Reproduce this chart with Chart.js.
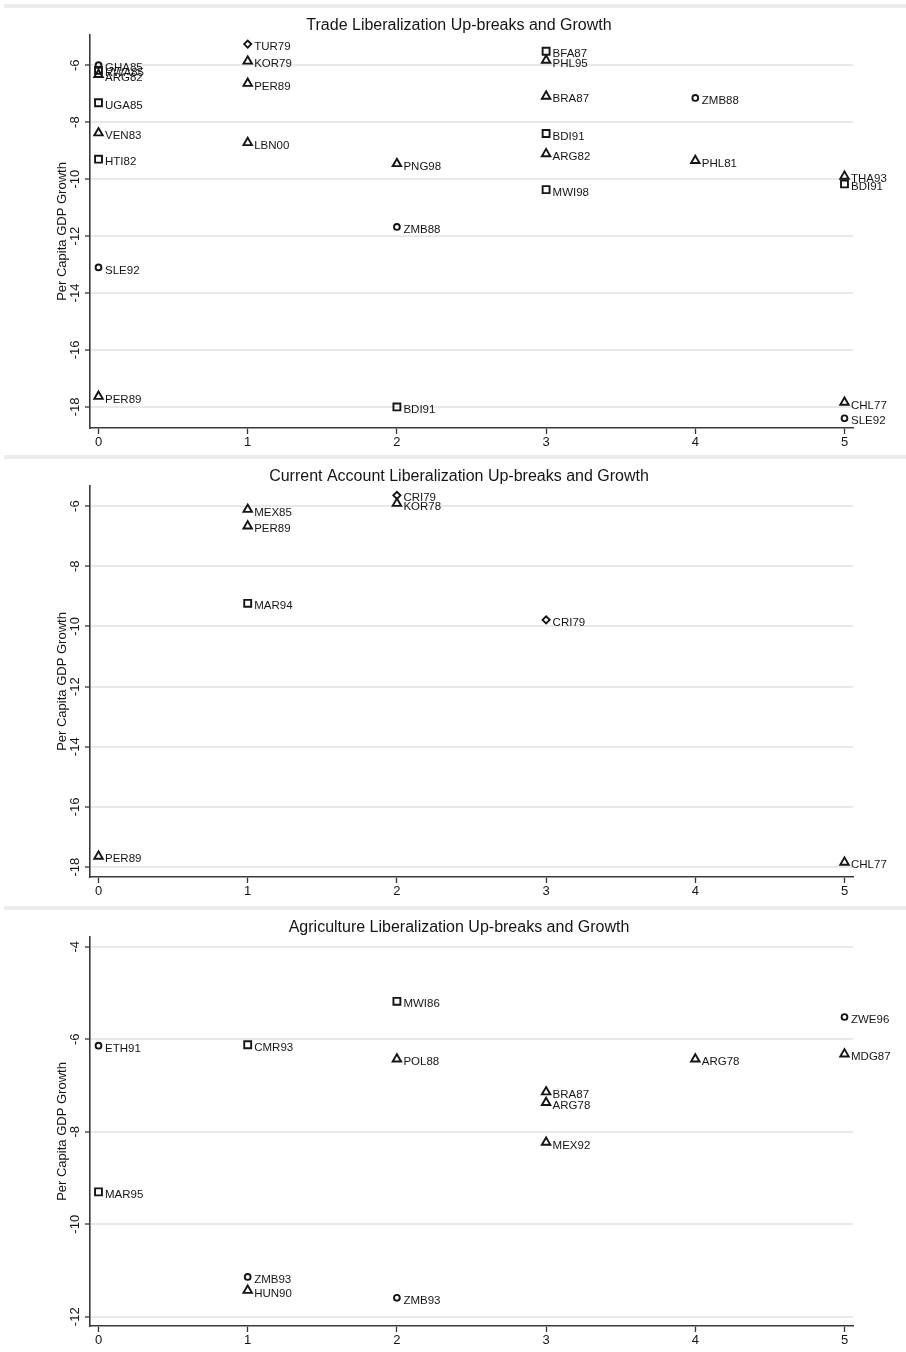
<!DOCTYPE html>
<html>
<head>
<meta charset="utf-8">
<script src="https://cdn.jsdelivr.net/npm/chart.js@4.4.1/dist/chart.umd.min.js"></script>
<style>
  html, body { margin: 0; padding: 0; background: #fff; }
  canvas { display: block; }
</style>
</head>
<body>
<canvas id="trade" width="906" height="451"></canvas>
<canvas id="current" width="906" height="451"></canvas>
<canvas id="agri" width="906" height="450"></canvas>
<script>
// ---- Trade liberalization up-breaks ----
const tradeCodes  = ['GHA85','RWA85','ARG82','UGA85','VEN83','HTI82','SLE92','PER89',
                     'TUR79','KOR79','PER89','LBN00',
                     'PNG98','ZMB88','BDI91',
                     'BFA87','PHL95','BRA87','BDI91','ARG82','MWI98',
                     'ZMB88','PHL81',
                     'THA93','BDI91','CHL77','SLE92'];
const tradeBreaks = [0,0,0,0,0,0,0,0, 1,1,1,1, 2,2,2, 3,3,3,3,3,3, 4,4, 5,5,5,5];
const tradeGrowth = [-6.0,-6.18,-6.33,-7.32,-8.38,-9.30,-13.10,-17.63,
                     -5.26,-5.86,-6.64,-8.72,
                     -9.46,-11.68,-18.0,
                     -5.51,-5.83,-7.09,-8.40,-9.11,-10.37,
                     -7.15,-9.35,
                     -9.90,-10.17,-17.84,-18.40];
const tradeGroup  = ['A','B','C','B','C','B','A','C',
                     'D','C','C','C',
                     'C','A','B',
                     'B','C','C','B','C','B',
                     'A','C',
                     'C','B','C','A'];

// ---- Current account liberalization up-breaks ----
const currentCodes  = ['PER89','MEX85','PER89','MAR94','CRI79','KOR78','CRI79','CHL77'];
const currentBreaks = [0,1,1,1,2,2,3,5];
const currentGrowth = [-17.64,-6.11,-6.66,-9.23,-5.64,-5.91,-9.78,-17.84];
const currentGroup  = ['C','C','C','B','D','C','D','C'];

// ---- Agriculture liberalization up-breaks ----
const agriCodes  = ['ETH91','MAR95','CMR93','ZMB93','HUN90','MWI86','POL88','ZMB93',
                    'BRA87','ARG78','MEX92','ARG78','ZWE96','MDG87'];
const agriBreaks = [0,0,1,1,1,2,2,2,3,3,3,4,5,5];
const agriGrowth = [-6.14,-9.30,-6.12,-11.14,-11.43,-5.18,-6.43,-11.59,
                    -7.14,-7.37,-8.23,-6.43,-5.52,-6.32];
const agriGroup  = ['A','B','B','A','C','B','C','A','C','C','C','C','A','C'];

// ---- Axis ticks ----
const xTickValues     = [0,1,2,3,4,5];
const tradeYTicks     = [-18,-16,-14,-12,-10,-8,-6];
const currentYTicks   = [-18,-16,-14,-12,-10,-8,-6];
const agriYTicks      = [-12,-10,-8,-6,-4];

const panelTitles = [
  'Trade Liberalization Up-breaks and Growth',
  'Current Account Liberalization Up-breaks and Growth',
  'Agriculture Liberalization Up-breaks and Growth'
];
const yTitle = 'Per Capita GDP Growth';

// marker symbol for each group
const groupMarker = {
  A: { style: 'circle',   radius: 2.9 },
  B: { style: 'rect',     radius: 4.9 },
  C: { style: 'triangle', radius: 4.9 },
  D: { style: 'rectRot',  radius: 3.6 }
};

const FONT = '"Liberation Sans", Arial, Helvetica, sans-serif';
const INK = '#151515';

function buildDatasets(codes, xs, ys, groups) {
  return ['A','B','C','D'].map(g => {
    const idx = groups.map((v, i) => v === g ? i : -1).filter(i => i >= 0);
    return {
      label: g,
      data: idx.map(i => ({ x: xs[i], y: ys[i] })),
      codes: idx.map(i => codes[i]),
      pointStyle: groupMarker[g].style,
      pointRadius: groupMarker[g].radius,
      pointHoverRadius: groupMarker[g].radius,
      pointBorderWidth: 1.9,
      pointBorderColor: INK,
      pointBackgroundColor: 'rgba(0,0,0,0)',
      showLine: false
    };
  }).filter(d => d.data.length);
}

// frame strip, title, rotated y tick labels and axis title
const panelDecor = {
  id: 'panelDecor',
  beforeDraw(chart) {
    const ctx = chart.ctx;
    ctx.save();
    ctx.fillStyle = '#ffffff';
    ctx.fillRect(0, 0, chart.width, chart.height);
    ctx.fillStyle = '#ececec';
    ctx.fillRect(4, 4, chart.width - 4, 4);
    ctx.restore();
  },
  afterDraw(chart, args, opts) {
    const ctx = chart.ctx;
    const ys = chart.scales.y;
    const area = chart.chartArea;
    ctx.save();
    ctx.fillStyle = INK;
    ctx.font = '16px ' + FONT;
    ctx.textAlign = 'center';
    ctx.textBaseline = 'alphabetic';
    ctx.fillText(opts.title, 459, 29.5);

    ctx.font = '13px ' + FONT;
    ys.ticks.forEach(t => {
      const py = ys.getPixelForValue(t.value);
      ctx.save();
      ctx.translate(79, py);
      ctx.rotate(-Math.PI / 2);
      ctx.textAlign = 'center';
      ctx.fillText(String(t.value), 0, 0);
      ctx.restore();
    });

    ctx.save();
    ctx.translate(66, (area.top + area.bottom) / 2);
    ctx.rotate(-Math.PI / 2);
    ctx.textAlign = 'center';
    ctx.fillText(yTitle, 0, 0);
    ctx.restore();
    ctx.restore();
  }
};

// country-year label to the right of each marker
const markerLabels = {
  id: 'markerLabels',
  afterDatasetsDraw(chart) {
    const ctx = chart.ctx;
    ctx.save();
    ctx.fillStyle = INK;
    ctx.font = '11.5px ' + FONT;
    ctx.textAlign = 'left';
    ctx.textBaseline = 'middle';
    chart.data.datasets.forEach((ds, di) => {
      const meta = chart.getDatasetMeta(di);
      meta.data.forEach((pt, i) => {
        ctx.fillText(ds.codes[i], pt.x + 6.5, pt.y + 3);
      });
    });
    ctx.restore();
  }
};

function makePanel(id, title, datasets, yTicks, yMin, yMax, plotBottom) {
  const canvas = document.getElementById(id);
  const H = canvas.height;
  return new Chart(canvas, {
    type: 'scatter',
    data: { datasets },
    plugins: [panelDecor, markerLabels],
    options: {
      responsive: false,
      animation: false,
      devicePixelRatio: 1,
      layout: { padding: { top: 35, right: 53, left: 0, bottom: 0 } },
      plugins: {
        legend: { display: false },
        tooltip: { enabled: false },
        panelDecor: { title }
      },
      scales: {
        x: {
          type: 'linear',
          min: -0.057,
          max: 5.057,
          afterBuildTicks: s => { s.ticks = xTickValues.map(v => ({ value: v })); },
          afterFit: s => { s.height = H - plotBottom; },
          grid: { display: true, drawOnChartArea: false, drawTicks: true,
                  tickLength: 6, tickColor: '#333', tickWidth: 1.3 },
          border: { display: true, color: '#3a3a3a', width: 1.6 },
          ticks: { color: INK, padding: 1, font: { family: FONT, size: 13 },
                   maxRotation: 0, autoSkip: false }
        },
        y: {
          type: 'linear',
          min: yMin,
          max: yMax,
          afterBuildTicks: s => { s.ticks = yTicks.map(v => ({ value: v })); },
          afterFit: s => { s.width = 90; },
          grid: { display: true, drawOnChartArea: true, drawTicks: true,
                  color: '#e9e9e9', lineWidth: 2,
                  tickLength: 5, tickColor: '#333', tickWidth: 1.3 },
          border: { display: true, color: '#3a3a3a', width: 1.6 },
          ticks: { display: false }
        }
      }
    }
  });
}

makePanel('trade', panelTitles[0],
  buildDatasets(tradeCodes, tradeBreaks, tradeGrowth, tradeGroup),
  tradeYTicks, -18.74, -4.94, 428);
makePanel('current', panelTitles[1],
  buildDatasets(currentCodes, currentBreaks, currentGrowth, currentGroup),
  currentYTicks, -18.33, -5.33, 426);
makePanel('agri', panelTitles[2],
  buildDatasets(agriCodes, agriBreaks, agriGrowth, agriGroup),
  agriYTicks, -12.2, -3.79, 424);
</script>
</body>
</html>
